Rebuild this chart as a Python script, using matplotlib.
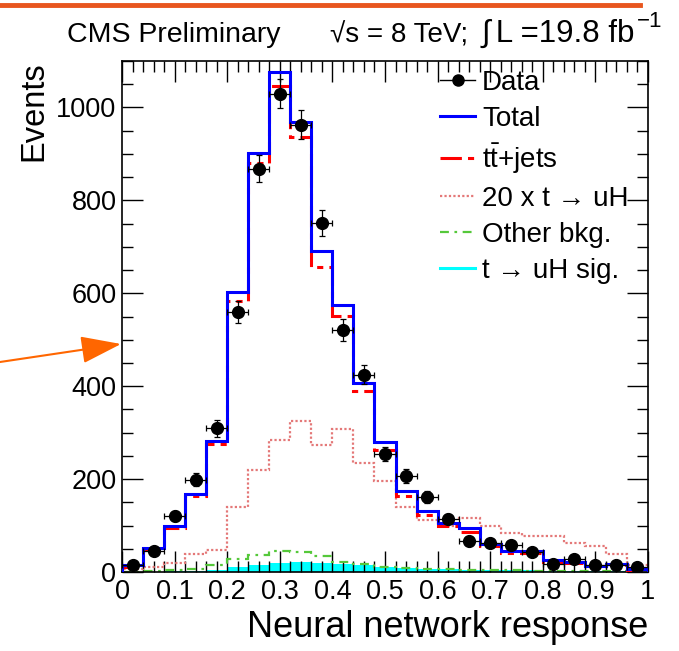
import numpy as np
import matplotlib
matplotlib.use("Agg")
import matplotlib.pyplot as plt
from matplotlib.lines import Line2D
from matplotlib.patches import FancyArrowPatch
from matplotlib.ticker import MultipleLocator, FuncFormatter

plt.rcParams['font.family'] = ['Liberation Sans', 'DejaVu Sans']
plt.rcParams['mathtext.fontset'] = 'custom'
plt.rcParams['mathtext.rm'] = 'Liberation Sans'
plt.rcParams['mathtext.it'] = 'Liberation Sans:italic'
plt.rcParams['mathtext.bf'] = 'Liberation Sans:bold'

# ---------------- data ----------------
bin_lo, bin_hi, n_bins = 0.0, 1.0, 25
total = [16, 52, 99, 168, 283, 603, 903, 1077, 969, 690, 574, 406, 279,
         175, 132, 105, 94, 60, 46, 45, 26, 22, 12, 17, 6]
ttbar = [11, 49, 95, 163, 276, 584, 881, 1046, 937, 656, 551, 389, 262,
         163, 123, 99, 87, 55, 40, 40, 22, 20, 12, 15, 5]
sig20 = [6, 10, 20, 38, 48, 139, 219, 285, 326, 274, 308, 235, 196,
         139, 112, 98, 117, 100, 85, 78, 78, 62, 56, 39, 15]
other = [1, 2, 4, 7, 14, 29, 37, 45, 42, 35, 21, 17, 11,
         9, 7, 6, 5, 4, 4, 3, 3, 2, 2, 2, 1]
signal = [1, 1, 2, 3, 4, 10, 16, 20, 22, 20, 17, 15, 11,
          9, 7, 6, 5, 5, 4, 4, 3, 3, 2, 2, 1]
data = [15, 45, 120, 199, 309, 560, 868, 1030, 963, 751, 521, 425, 254,
        207, 161, 114, 67, 63, 58, 42, 17, 27, 15, 14, 10]
data_err = [3.9, 6.7, 11, 14.1, 17.6, 23.7, 29.5, 32.1, 31, 27.4, 22.8, 20.6, 15.9,
            14.4, 12.7, 10.7, 8.2, 7.9, 7.6, 6.5, 4.1, 5.2, 3.9, 3.7, 3.2]
labels = ["Data", "Total", r"$\mathrm{t\bar{t}}$+jets", "20 x t \u2192 uH",
          "Other bkg.", "t \u2192 uH sig."]

edges = np.linspace(bin_lo, bin_hi, n_bins + 1)
centers = 0.5 * (edges[:-1] + edges[1:])
half_w = 0.5 * (edges[1] - edges[0])

# ---------------- figure ----------------
W, H = 679, 651
fig = plt.figure(figsize=(W / 100, H / 100), dpi=100)
ax_l, ax_r, ax_t, ax_b = 122, 648, 61, 572
ax = fig.add_axes([ax_l / W, 1 - ax_b / H, (ax_r - ax_l) / W, (ax_b - ax_t) / H])

c_blue = '#0000FF'
c_red = '#FF0000'
c_pink = '#E47878'
c_green = '#55C83A'
c_cyan = '#00FFFF'

ls_red = (0, (7, 2, 2, 2))
ls_pink = (0, (1, 1))
ls_green = (0, (4, 2.5, 1.2, 2.5))

ax.stairs(signal, edges, fill=True, color=c_cyan, lw=0, zorder=1)
ax.stairs(other, edges, color=c_green, lw=1.6, ls=ls_green, zorder=2)
ax.stairs(sig20, edges, color=c_pink, lw=1.6, ls=ls_pink, zorder=2)
ax.stairs(ttbar, edges, color=c_red, lw=2.2, ls=ls_red, zorder=3)
ax.stairs(total, edges, color=c_blue, lw=2.2, zorder=4)
ax.errorbar(centers, data, yerr=data_err, xerr=half_w, fmt='o', color='black',
            ms=8.5, elinewidth=0.9, capsize=2.5, capthick=0.9, zorder=5)

ax.set_xlim(bin_lo, bin_hi)
ax.set_ylim(0, 1100)
ax.xaxis.set_major_locator(MultipleLocator(0.1))
ax.xaxis.set_minor_locator(MultipleLocator(0.02))
ax.yaxis.set_major_locator(MultipleLocator(200))
ax.yaxis.set_minor_locator(MultipleLocator(50))
ax.xaxis.set_major_formatter(FuncFormatter(lambda v, p: f"{v:g}"))
ax.tick_params(which='both', direction='in', top=True, right=True, labelsize=19.5, width=1)
ax.tick_params(which='major', length=15)
ax.tick_params(which='minor', length=8)
ax.tick_params(axis='x', pad=5)
ax.tick_params(axis='y', pad=4)
for s in ax.spines.values():
    s.set_linewidth(1.2)

ax.set_xlabel("Neural network response", fontsize=26, ha='right')
ax.xaxis.set_label_coords(1.0, -0.074)
ax.set_ylabel("Events", fontsize=23.5, ha='right')
ax.yaxis.set_label_coords(-0.138, 1.0)

handles = [
    Line2D([], [], color='black', lw=1, marker='o', ms=8),
    Line2D([], [], color=c_blue, lw=2.2),
    Line2D([], [], color=c_red, lw=2.2, ls=ls_red),
    Line2D([], [], color=c_pink, lw=1.6, ls=ls_pink),
    Line2D([], [], color=c_green, lw=1.6, ls=ls_green),
    Line2D([], [], color=c_cyan, lw=2.2),
]
ax.legend(handles, labels, loc='upper left', bbox_to_anchor=((440 - ax_l) / (ax_r - ax_l), 0.983),
          frameon=False, fontsize=20, handlelength=1.26, handletextpad=0.25,
          labelspacing=0.36, borderpad=0, borderaxespad=0)

# header texts
base_y = 1 - 42 / H
fig.text(67 / W, base_y, "CMS Preliminary", fontsize=20.5, va='baseline', ha='left')
fig.text(330 / W, base_y, "\u221as = 8 TeV;", fontsize=20, va='baseline', ha='left')
lumi = fig.text(482 / W, base_y, "\u222b\u2009L =19.8 fb", fontsize=22.5, va='baseline', ha='left')
fig.canvas.draw()
bb = lumi.get_window_extent()
fig.text((bb.x1 + 2) / W, 1 - 27 / H, "\u22121", fontsize=16, va='baseline', ha='left')

# decorations: orange top bar and arrow
fig.add_artist(Line2D([0, 640 / W], [1 - 5 / H, 1 - 5 / H], color='#E8561E', lw=3.5))
fig.add_artist(FancyArrowPatch(
    (0, 1 - 362 / H), (121 / W, 1 - 344 / H), transform=fig.transFigure,
    arrowstyle='-|>,head_length=25,head_width=8.5', color='#FF6600', lw=1.5,
    mutation_scale=1, shrinkA=0, shrinkB=0))

fig.savefig("out.png", dpi=100)
